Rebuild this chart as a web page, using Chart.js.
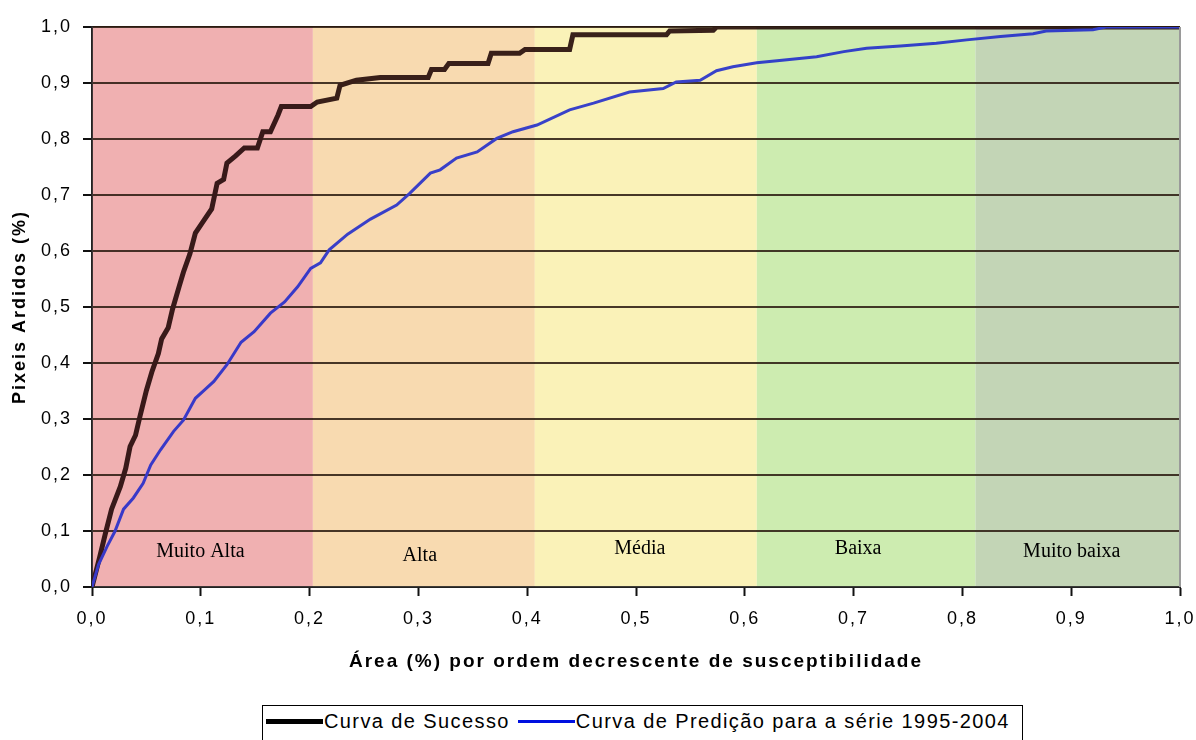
<!DOCTYPE html>
<html>
<head>
<meta charset="utf-8">
<script src="https://cdn.jsdelivr.net/npm/chart.js@4.4.1/dist/chart.umd.min.js"></script>
<style>
  html, body { margin: 0; padding: 0; background: #fff; overflow: hidden; }
  #wrap { position: relative; width: 1196px; height: 740px; }
  #chartCurvas { position: absolute; left: 0; top: 0; }
  #legenda {
    position: absolute; left: 262px; top: 705px; width: 761px; height: 50px;
    border: 1px solid #000; box-sizing: border-box;
    font: 20px "Liberation Sans", Arial, sans-serif; letter-spacing: 1.4px; color: #000;
    display: flex; align-items: flex-start; padding: 2px 0 0 3px;
  }
  #legenda .item { display: flex; align-items: center; height: 27px; margin-right: 8px; }
  #legenda .linha { display: inline-block; width: 57px; margin-right: 1px; }
</style>
</head>
<body>
<div id="wrap">
  <canvas id="chartCurvas" width="1196" height="700"></canvas>
  <div id="legenda"></div>
</div>
<script>
// Curva de Sucesso (área acumulada vs pixeis ardidos)
const sucessoX = [0, 0.007, 0.012, 0.018, 0.026, 0.031, 0.035, 0.040, 0.044, 0.050,
  0.055, 0.061, 0.064, 0.070, 0.074, 0.080, 0.084, 0.090, 0.095, 0.103,
  0.110, 0.115, 0.121, 0.124, 0.132, 0.140, 0.152, 0.157, 0.164, 0.171,
  0.174, 0.201, 0.207, 0.225, 0.228, 0.243, 0.265, 0.309, 0.312, 0.324,
  0.328, 0.364, 0.367, 0.393, 0.398, 0.439, 0.442, 0.528, 0.531, 0.571,
  0.574, 1.0];
const sucessoY = [0, 0.053, 0.093, 0.139, 0.179, 0.212, 0.251, 0.271, 0.304, 0.351,
  0.384, 0.417, 0.443, 0.463, 0.496, 0.536, 0.562, 0.595, 0.632, 0.655,
  0.675, 0.721, 0.728, 0.757, 0.770, 0.784, 0.784, 0.813, 0.813, 0.843,
  0.858, 0.858, 0.866, 0.873, 0.896, 0.905, 0.910, 0.910, 0.924, 0.924,
  0.935, 0.935, 0.953, 0.953, 0.960, 0.960, 0.986, 0.986, 0.993, 0.994,
  1.0, 1.0];

// Curva de Predição para a série 1995-2004
const predicaoX = [0, 0.006, 0.014, 0.021, 0.029, 0.038, 0.047, 0.054, 0.063, 0.075,
  0.084, 0.095, 0.103, 0.112, 0.124, 0.137, 0.149, 0.164, 0.177, 0.189,
  0.201, 0.210, 0.218, 0.235, 0.256, 0.280, 0.292, 0.311, 0.320, 0.335,
  0.354, 0.372, 0.387, 0.409, 0.439, 0.461, 0.494, 0.525, 0.537, 0.559,
  0.574, 0.589, 0.611, 0.632, 0.666, 0.691, 0.712, 0.743, 0.776, 0.804,
  0.835, 0.865, 0.877, 0.920, 0.932, 1.0];
const predicaoY = [0, 0.040, 0.073, 0.099, 0.139, 0.159, 0.185, 0.218, 0.245, 0.278,
  0.298, 0.337, 0.351, 0.367, 0.397, 0.437, 0.456, 0.489, 0.509, 0.536,
  0.569, 0.579, 0.602, 0.630, 0.657, 0.682, 0.703, 0.739, 0.745, 0.766,
  0.777, 0.801, 0.813, 0.825, 0.852, 0.864, 0.884, 0.890, 0.902, 0.905,
  0.922, 0.929, 0.936, 0.940, 0.947, 0.956, 0.962, 0.966, 0.971, 0.977,
  0.983, 0.988, 0.993, 0.995, 1.0, 1.0];

// classes de susceptibilidade
const classes = ['Muito Alta', 'Alta', 'Média', 'Baixa', 'Muito baixa'];
const limitesClasses = [0, 0.203, 0.407, 0.611, 0.812, 1.0];
const coresClasses = ['#f0b0b2', '#f8dab0', '#fbf3b8', '#cdedb0', '#c3d6b6'];

const toPoints = (xs, ys) => xs.map((x, i) => ({ x: x, y: ys[i] }));
const fmt = v => v.toFixed(1).replace('.', ',');

// bandas coloridas por trás da grelha, véu leve por cima das curvas e rótulos
const bandasPlugin = {
  id: 'bandas',
  beforeDraw(chart) {
    chart.ctx.letterSpacing = '2px';
    const { ctx, chartArea: a, scales: { x } } = chart;
    ctx.save();
    classes.forEach((c, i) => {
      const x0 = x.getPixelForValue(limitesClasses[i]);
      const x1 = x.getPixelForValue(limitesClasses[i + 1]);
      ctx.fillStyle = coresClasses[i];
      ctx.fillRect(x0, a.top, x1 - x0, a.bottom - a.top);
    });
    ctx.restore();
  },
  afterDatasetsDraw(chart) {
    const { ctx, chartArea: a, scales: { x } } = chart;
    const lift = [35, 31, 38, 38, 35];
    const shift = [-2, -4, -6, -8, -6];
    ctx.save();
    ctx.beginPath();
    ctx.rect(a.left, a.top, a.right - a.left, a.bottom - a.top);
    ctx.clip();
    ctx.globalAlpha = 0.14;
    classes.forEach((c, i) => {
      const x0 = x.getPixelForValue(limitesClasses[i]);
      const x1 = x.getPixelForValue(limitesClasses[i + 1]);
      ctx.fillStyle = coresClasses[i];
      ctx.fillRect(x0, a.top, x1 - x0, a.bottom - a.top);
    });
    ctx.globalAlpha = 1;
    ctx.letterSpacing = '0px';
    ctx.fillStyle = '#000';
    ctx.font = '20px "Liberation Serif", "Times New Roman", serif';
    ctx.textAlign = 'center';
    ctx.textBaseline = 'middle';
    classes.forEach((c, i) => {
      const cx = (x.getPixelForValue(limitesClasses[i]) + x.getPixelForValue(limitesClasses[i + 1])) / 2;
      ctx.fillText(c, cx + shift[i], a.bottom - lift[i]);
    });
    ctx.restore();
  },
  afterDraw(chart) {
    const { ctx, chartArea: a } = chart;
    ctx.save();
    ctx.strokeStyle = '#9a9a9a';
    ctx.lineWidth = 2;
    ctx.beginPath();
    ctx.moveTo(a.right, a.top);
    ctx.lineTo(a.right, a.bottom);
    ctx.stroke();
    ctx.restore();
  }
};

const ctx = document.getElementById('chartCurvas').getContext('2d');
const chart = new Chart(ctx, {
  type: 'line',
  data: {
    datasets: [{
      label: 'Curva de Sucesso',
      data: toPoints(sucessoX, sucessoY),
      borderColor: '#1a0000',
      borderWidth: 5,
      pointRadius: 0,
      tension: 0,
      order: 2
    }, {
      label: 'Curva de Predição para a série 1995-2004',
      data: toPoints(predicaoX, predicaoY),
      borderColor: '#1a26cc',
      borderWidth: 3,
      pointRadius: 0,
      tension: 0,
      order: 1
    }]
  },
  options: {
    responsive: false,
    animation: false,
    layout: { padding: { top: 27, right: 16, left: 0, bottom: 0 } },
    plugins: { legend: { display: false }, tooltip: { enabled: false } },
    scales: {
      x: {
        type: 'linear', min: 0, max: 1,
        afterFit(s) { s.height = 113; s.paddingRight = 0; s.paddingLeft = 0; },
        ticks: {
          stepSize: 0.1, autoSkip: false, maxRotation: 0, padding: 12, color: '#000',
          font: { family: '"Liberation Sans", Arial, sans-serif', size: 18 },
          callback: v => fmt(v)
        },
        grid: { drawOnChartArea: false, tickLength: 9, tickColor: '#111', tickWidth: 2 },
        border: { color: '#222', width: 2 },
        title: {
          display: true, text: 'Área (%) por ordem decrescente de susceptibilidade', color: '#000',
          font: { family: '"Liberation Sans", Arial, sans-serif', size: 19, weight: 'bold' },
          padding: { top: 0, bottom: 27 }
        }
      },
      y: {
        min: 0, max: 1,
        afterFit(s) { s.width = 92; },
        ticks: {
          stepSize: 0.1, padding: 11, color: '#000',
          font: { family: '"Liberation Sans", Arial, sans-serif', size: 18 },
          callback: v => fmt(v)
        },
        grid: { color: '#2a1a10', lineWidth: 2, tickLength: 9, tickColor: '#111', tickWidth: 2 },
        border: { color: '#222', width: 2 },
        title: {
          display: true, text: 'Pixeis Ardidos (%)', color: '#000',
          font: { family: '"Liberation Sans", Arial, sans-serif', size: 18, weight: 'bold' },
          padding: { top: 9, bottom: 0 }
        }
      }
    }
  },
  plugins: [bandasPlugin]
});

// legenda em caixa, como no original
const coresLegenda = ['#000', '#0010e0'];
const legenda = document.getElementById('legenda');
chart.data.datasets.forEach((ds, i) => {
  const item = document.createElement('span');
  item.className = 'item';
  const linha = document.createElement('span');
  linha.className = 'linha';
  linha.style.height = ds.borderWidth + 'px';
  linha.style.background = coresLegenda[i];
  const txt = document.createElement('span');
  txt.textContent = ds.label;
  item.appendChild(linha);
  item.appendChild(txt);
  legenda.appendChild(item);
});
</script>
</body>
</html>
